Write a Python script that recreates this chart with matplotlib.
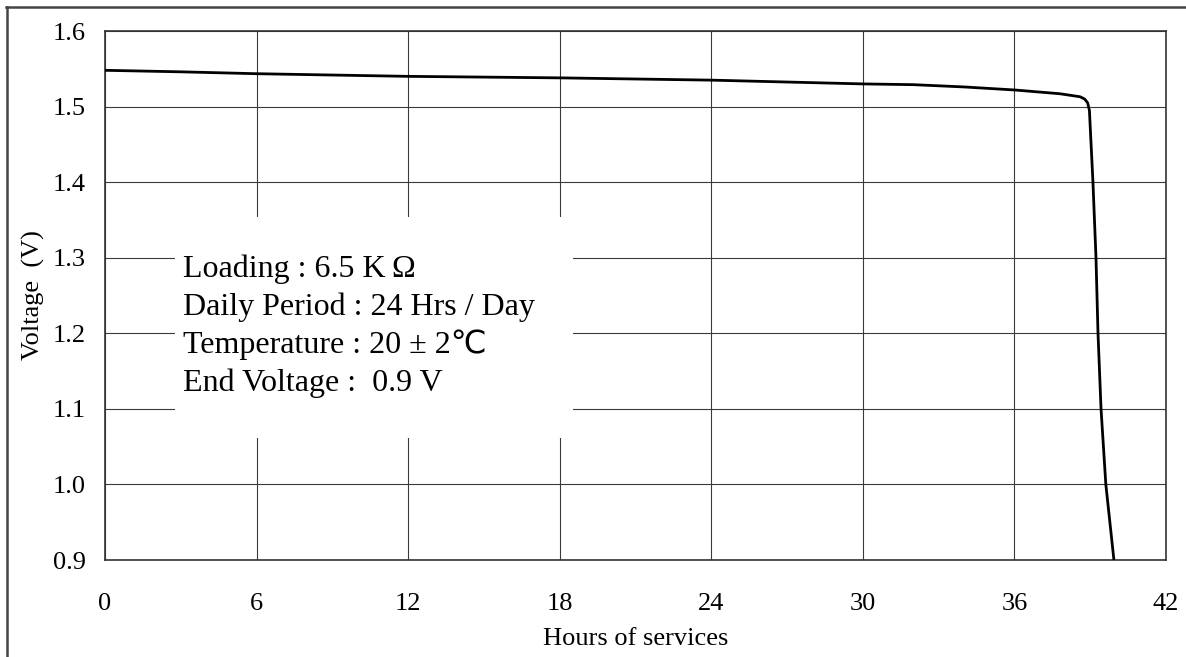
import numpy as np
import matplotlib
matplotlib.use('Agg')
import matplotlib.pyplot as plt
from matplotlib.patches import Rectangle
from matplotlib.lines import Line2D

plt.rcParams['font.family'] = ['Liberation Serif', 'DejaVu Sans', 'Noto Sans CJK SC']

# discharge curve
hours = [0, 3, 6, 12, 18, 24, 30, 32, 34, 36, 37.8, 38.6, 38.78, 38.9, 38.97,
         39.11, 39.23, 39.31, 39.43, 39.62, 39.94]
volts = [1.548, 1.546, 1.5435, 1.540, 1.538, 1.535, 1.530, 1.529, 1.526, 1.522,
         1.517, 1.513, 1.510, 1.505, 1.495, 1.40, 1.30, 1.20, 1.10, 1.00, 0.90]

xticks = [0, 6, 12, 18, 24, 30, 36, 42]
yticks = [0.9, 1.0, 1.1, 1.2, 1.3, 1.4, 1.5, 1.6]

notes = ['Loading : 6.5 K\u2009\u03a9',
         'Daily Period : 24 Hrs / Day',
         'Temperature : 20 \u00b1 2\u2103',
         'End Voltage :  0.9 V']

fig = plt.figure(figsize=(11.86, 6.57), dpi=100)
ax = fig.add_axes([0.0885, 0.1476, 0.8946, 0.8052])

ax.plot(hours, volts, color='black', linewidth=2.0, solid_capstyle='butt', zorder=4)

ax.set_xlim(0, 42)
ax.set_ylim(0.9, 1.6)
ax.set_xticks(xticks)
ax.set_yticks(yticks)
ax.set_xticklabels([str(t) for t in xticks])
ax.set_yticklabels([f'{v:.1f}' for v in yticks])
ax.tick_params(axis='both', length=0, labelsize=19)
ax.tick_params(axis='x', pad=24)
ax.tick_params(axis='y', pad=14)
ax.grid(True, color='#3a3a3a', linewidth=0.8)
ax.set_axisbelow(True)
for s in ax.spines.values():
    s.set_color('#333333')
    s.set_linewidth(1.2)

ax.set_xlabel('Hours of services', fontsize=19, labelpad=9)
ax.set_ylabel('Voltage  (V)', fontsize=19, labelpad=5)

# white box behind the test conditions
ax.add_patch(Rectangle((0.066, 0.231), 0.375, 0.418, transform=ax.transAxes,
                       facecolor='white', edgecolor='none', zorder=2))
for i, line in enumerate(notes):
    ax.text(0.0735, 0.535 - i * 0.0718, line, transform=ax.transAxes,
            fontsize=23, ha='left', va='baseline', zorder=3)

# outer frame (top and left edges)
fig.add_artist(Line2D([0.005, 1.0], [0.9898, 0.9898], color='#444444', linewidth=1.8))
fig.add_artist(Line2D([0.0055, 0.0055], [0.0, 0.9898], color='#444444', linewidth=1.8))

fig.savefig('out.png', dpi=100)
